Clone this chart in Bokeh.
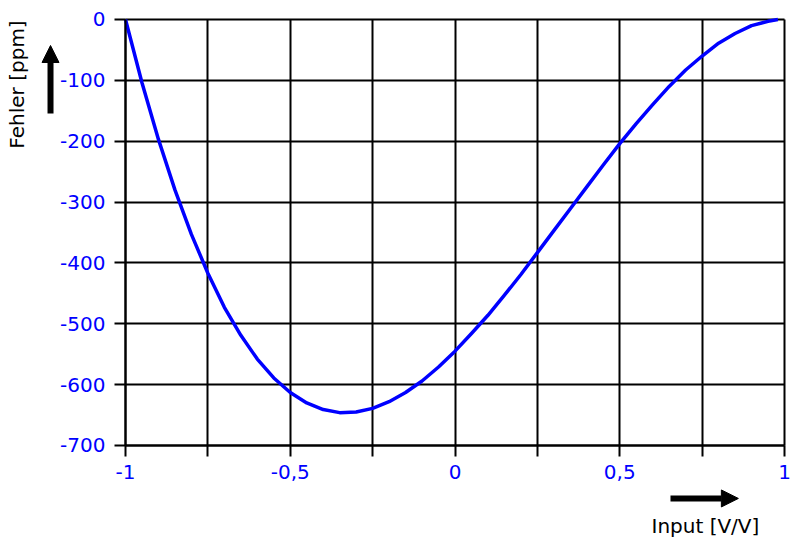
from bokeh.plotting import figure
from bokeh.models import (FixedTicker, Arrow, NormalHead, Label, Range1d,
                          LinearAxis, Grid)
from bokeh.embed import file_html
from bokeh.resources import INLINE

# curve
x_vals = [-1.0, -0.95, -0.9, -0.85, -0.8, -0.75, -0.7, -0.65, -0.6, -0.55, -0.5,
          -0.45, -0.4, -0.35, -0.3, -0.25, -0.2, -0.15, -0.1, -0.05, 0.0,
          0.05, 0.1, 0.15, 0.2, 0.25, 0.3, 0.35, 0.4, 0.45, 0.5,
          0.55, 0.6, 0.65, 0.7, 0.75, 0.8, 0.85, 0.9, 0.95, 0.98]
fehler = [0, -104, -197, -280, -353, -417, -473, -519, -558, -589, -613,
          -630, -641, -646, -645, -639, -628, -613, -594, -571, -545,
          -516, -486, -453, -419, -383, -347, -311, -275, -239, -204,
          -171, -140, -110, -83, -60, -39, -23, -10, -3, 0]

x_major = [-1, -0.5, 0, 0.5, 1]
x_minor = [-0.75, -0.25, 0.25, 0.75]
x_labels = {-1: "-1", -0.5: "-0,5", 0: "0", 0.5: "0,5", 1: "1"}
y_ticks = [0, -100, -200, -300, -400, -500, -600, -700]
y_labels = {t: str(t) for t in y_ticks}

FONT = "DejaVu Sans"
BLUE = "#0000ff"

# frame fills the canvas so the arrows/titles outside the grid are not clipped
p = figure(width=795, height=548, output_backend="svg", toolbar_location=None,
           x_range=Range1d(-1.3794, 1.0334), y_range=Range1d(-869.25, 31.22),
           x_axis_type=None, y_axis_type=None,
           min_border=0)
p.outline_line_color = None
p.background_fill_color = "white"

xax = LinearAxis(fixed_location=-700, bounds=(-1, 1),
                 ticker=FixedTicker(ticks=x_major, minor_ticks=x_minor),
                 major_label_overrides=x_labels)
yax = LinearAxis(fixed_location=-1, bounds=(-700, 0),
                 ticker=FixedTicker(ticks=y_ticks),
                 major_label_overrides=y_labels)
for ax in (xax, yax):
    ax.axis_line_color = "black"
    ax.axis_line_width = 2
    ax.major_tick_line_color = "black"
    ax.major_tick_line_width = 2
    ax.major_tick_out = 11
    ax.major_tick_in = 0
    ax.minor_tick_line_color = "black"
    ax.minor_tick_line_width = 2
    ax.minor_tick_out = 11
    ax.minor_tick_in = 0
    ax.major_label_text_color = BLUE
    ax.major_label_text_font = FONT
    ax.major_label_text_font_size = "20px"
xax.major_label_standoff = 9
yax.major_label_standoff = 9
p.add_layout(xax, "below")
p.add_layout(yax, "left")

xgrid = Grid(dimension=0, ticker=FixedTicker(ticks=x_major, minor_ticks=x_minor),
             cross_bounds=(-700, 0), grid_line_color="black", grid_line_width=2,
             minor_grid_line_color="black", minor_grid_line_width=2)
ygrid = Grid(dimension=1, ticker=FixedTicker(ticks=y_ticks),
             cross_bounds=(-1, 1), grid_line_color="black", grid_line_width=2)
p.add_layout(xgrid)
p.add_layout(ygrid)

p.line(x_vals, fehler, line_color=BLUE, line_width=3.5, line_join="round")

# axis titles with arrows, placed like the original
p.add_layout(Label(x=-1.3308, y=-106.8, text="Fehler [ppm]", angle=1.5708,
                   text_align="center", text_baseline="middle",
                   text_font=FONT, text_font_size="20px", text_color="black"))
p.add_layout(Arrow(x_start=-1.2276, y_start=-154.5, x_end=-1.2276, y_end=-42.7,
                   line_width=6, line_color="black",
                   end=NormalHead(size=17, fill_color="black", line_color="black")))
p.add_layout(Label(x=0.760, y=-831.5, text="Input [V/V]",
                   text_align="center", text_baseline="middle",
                   text_font=FONT, text_font_size="20px", text_color="black"))
p.add_layout(Arrow(x_start=0.654, y_start=-787, x_end=0.860, y_end=-787,
                   line_width=6, line_color="black",
                   end=NormalHead(size=17, fill_color="black", line_color="black")))

open("out.html", "w").write(file_html(p, INLINE))
